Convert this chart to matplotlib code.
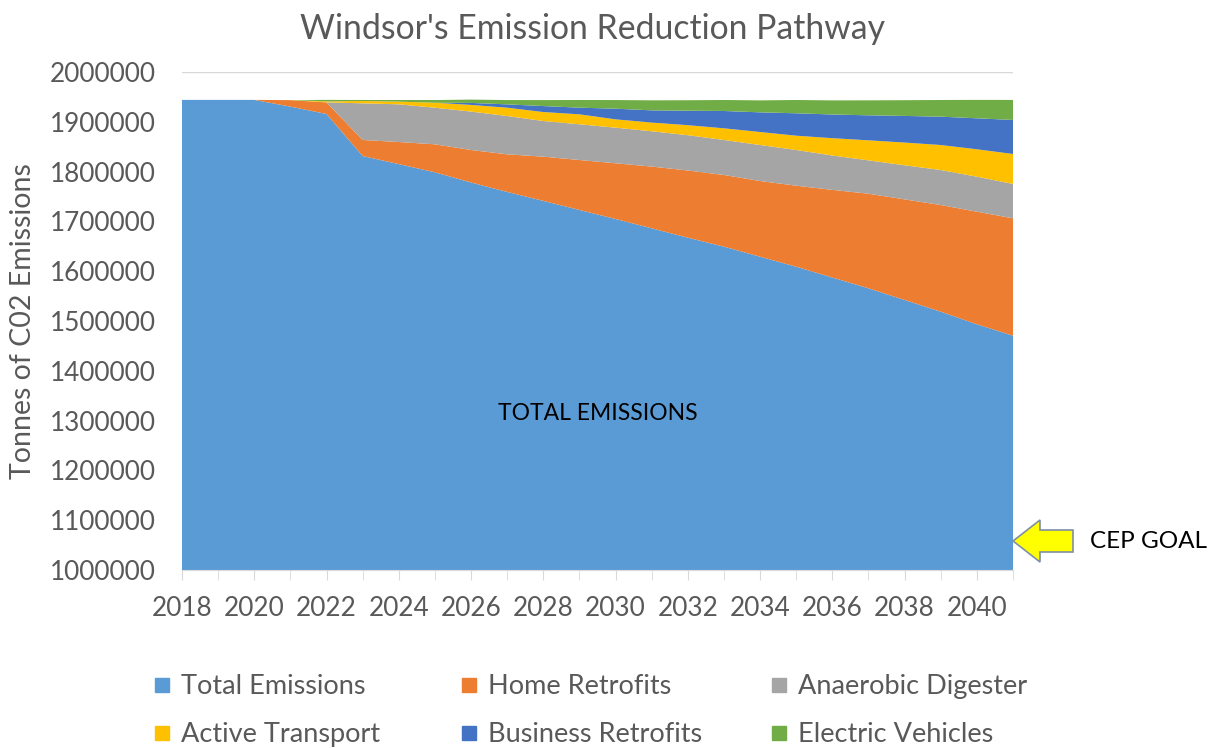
import matplotlib
matplotlib.use("Agg")
import matplotlib.pyplot as plt
from matplotlib.patches import Polygon
from matplotlib.lines import Line2D

years = list(range(2018, 2042))
total_emissions = [1944000, 1944000, 1944000, 1930500, 1915700, 1831300, 1815000, 1798600,
                   1778100, 1759200, 1741200, 1723000, 1704800, 1686100, 1667300, 1649300,
                   1629100, 1609000, 1587300, 1565600, 1542200, 1518700, 1493400, 1470500]
home_retrofits = [0, 0, 0, 13000, 23300, 32200, 44400, 56200,
                  65300, 75500, 88800, 100300, 111900, 124000, 134900, 143900,
                  152000, 162700, 176000, 190000, 202000, 214200, 226100, 235700]
anaerobic_digester = [0, 0, 0, 0, 0, 73600, 75700, 73500,
                      77100, 76900, 71600, 71700, 71500, 70900, 70900, 70300,
                      72300, 71700, 69000, 67000, 68500, 70300, 70300, 69000]
active_transport = [0, 0, 0, 0, 2000, 4700, 5400, 10000,
                    13400, 16700, 18000, 20000, 16700, 17500, 20100, 23400,
                    26100, 28700, 34800, 40200, 45600, 50200, 55000, 60200]
business_retrofits = [0, 0, 0, 0, 0, 0, 0, 0,
                      4000, 6700, 12000, 13400, 21400, 24500, 29100, 34800,
                      39500, 45000, 47600, 50200, 53500, 56900, 62200, 68300]
electric_vehicles = [0, 0, 0, 0, 3000, 2000, 3300, 5400,
                     6700, 8700, 12000, 15400, 17400, 20100, 21000, 22100,
                     24000, 26700, 28300, 30100, 31600, 33500, 37000, 40200]

series_names = ["Total Emissions", "Home Retrofits", "Anaerobic Digester",
                "Active Transport", "Business Retrofits", "Electric Vehicles"]
colors = ["#5B9BD5", "#ED7D31", "#A5A5A5", "#FFC000", "#4472C4", "#70AD47"]

y_ticks = list(range(1000000, 2000001, 100000))
x_major = list(range(2018, 2041, 2))

FONT = "Lato"
TXT = "#595959"
GRID = "#D9D9D9"

fig = plt.figure(figsize=(12.2, 7.48), dpi=100)
W, H = 1220, 748
ax = fig.add_axes([182/W, 1-570/H, (1013-182)/W, (570-72)/H])

for yv in y_ticks:
    ax.axhline(yv, color=GRID, lw=1, zorder=0)

ax.stackplot(years, total_emissions, home_retrofits, anaerobic_digester,
             active_transport, business_retrofits, electric_vehicles,
             colors=colors, linewidth=0, zorder=2)

ax.set_xlim(years[0], years[-1])
ax.set_ylim(y_ticks[0], y_ticks[-1])
ax.set_yticks(y_ticks)
ax.set_yticklabels([str(v) for v in y_ticks], fontfamily=FONT, fontsize=18.8, color=TXT)
ax.set_xticks(x_major)
ax.set_xticklabels([str(v) for v in x_major], fontfamily=FONT, fontsize=18.8, color=TXT)
ax.set_xticks(years, minor=True)
ax.tick_params(axis="y", length=0, pad=19)
ax.tick_params(axis="x", which="both", length=7, color=GRID, pad=12)
for s in ["left", "right", "top"]:
    ax.spines[s].set_visible(False)
ax.spines["bottom"].set_color(GRID)
ax.spines["bottom"].set_zorder(3)

ax.set_ylabel("Tonnes of C02 Emissions", fontfamily=FONT, fontsize=20.5, color=TXT, labelpad=10)

fig.text(592/W, 1-29/H, "Windsor's Emission Reduction Pathway", ha="center", va="center",
         fontfamily=FONT, fontsize=24.3, color=TXT)

ax.text(0.50, 0.315, "TOTAL EMISSIONS", transform=ax.transAxes, ha="center", va="center",
        fontfamily=FONT, fontsize=16.5, color="black", zorder=4)

# CEP GOAL arrow (figure pixel geometry)
pts = [(1013, 541), (1040, 520), (1040, 530), (1073, 530), (1073, 552), (1040, 552), (1040, 562)]
arrow = Polygon([(x/W, 1-y/H) for x, y in pts], closed=True, transform=fig.transFigure,
                facecolor="#FFFF00", edgecolor="#7F8FA6", lw=1.2, clip_on=False, zorder=5)
fig.patches.append(arrow)
fig.text(1090/W, 1-541/H, "CEP GOAL", ha="left", va="center", fontfamily=FONT, fontsize=17.5, color="black")

# Legend: three columns of two entries
col_x = [151, 458, 768]
for c in range(3):
    hs = []
    for r in range(2):
        i = r*3 + c
        hs.append(Line2D([], [], marker="s", linestyle="none", markersize=10,
                         markerfacecolor=colors[i], markeredgecolor=colors[i], label=series_names[i]))
    fig.legend(handles=hs, loc="upper left", bbox_to_anchor=(col_x[c]/W, 1-674/H),
               frameon=False, prop={"family": FONT, "size": 19.5}, labelcolor=TXT,
               handlelength=0.8, handletextpad=0.3, labelspacing=0.85, borderpad=0, borderaxespad=0)

fig.savefig("out.png", dpi=100)
